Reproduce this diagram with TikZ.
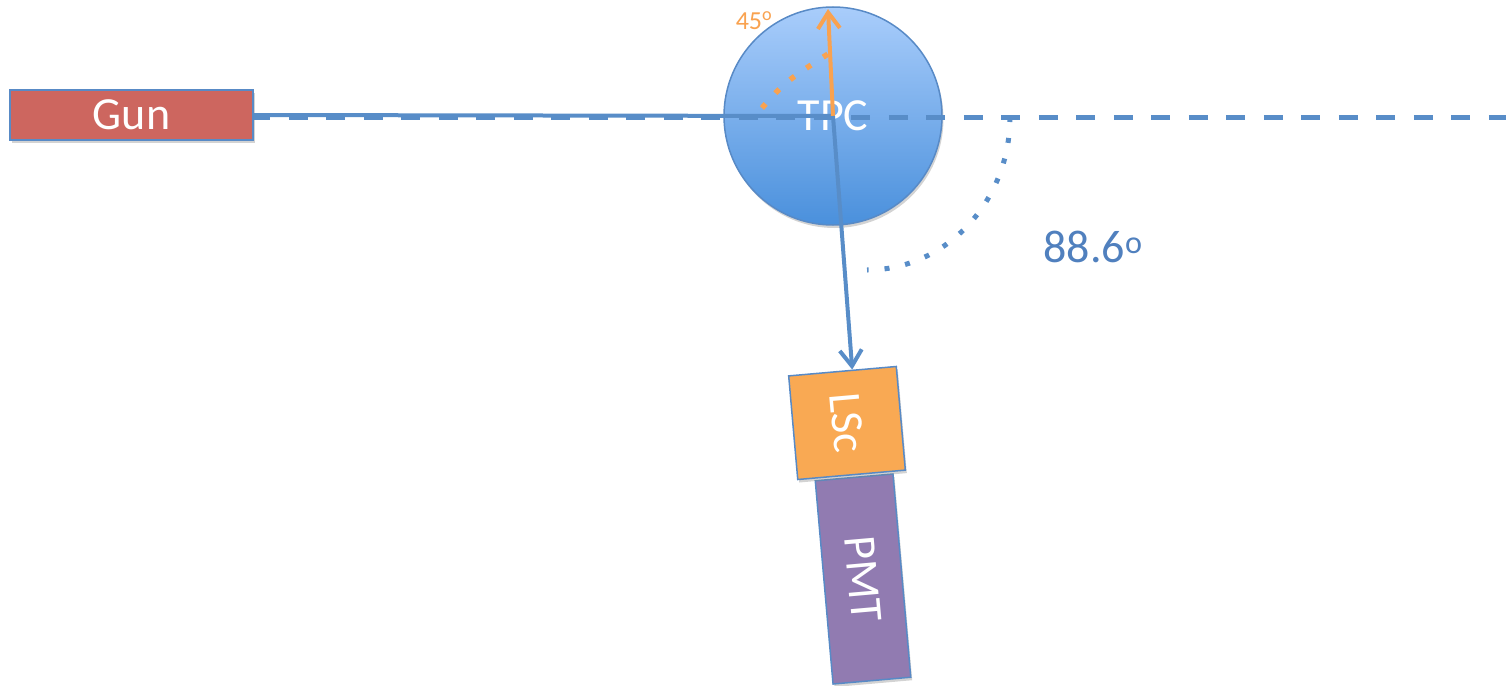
\documentclass[tikz,border=0pt]{standalone}
\usepackage{fontspec}
\setmainfont{Carlito}
\usetikzlibrary{arrows.meta,shadows,calc}
\definecolor{gunred}{RGB}{205,102,95}
\definecolor{edgeblue}{RGB}{88,138,198}
\definecolor{lineblue}{RGB}{88,141,200}
\definecolor{tpctop}{RGB}{169,205,251}
\definecolor{tpcbot}{RGB}{74,144,220}
\definecolor{beamorange}{RGB}{249,162,80}
\definecolor{lscorange}{RGB}{249,169,83}
\definecolor{pmtpurple}{RGB}{145,123,177}
\definecolor{labelblue}{RGB}{80,128,190}
\tikzset{
  boxstyle/.style={draw=edgeblue, line width=1.5pt, text=white, inner sep=0pt,
    font=\fontsize{46}{50}\selectfont},
  shade3d/.style={drop shadow={shadow xshift=1.5pt, shadow yshift=-3pt, opacity=0.35}},
  beam/.style={draw=lineblue, line width=4pt},
  dashbeam/.style={draw=lineblue, line width=5pt, dash pattern=on 19pt off 18.5pt, dash phase=2.5pt},
  bluedots/.style={draw=lineblue, line width=5pt, dash pattern=on 5pt off 16pt},
  orangedots/.style={draw=beamorange, line width=5.5pt, dash pattern=on 5.5pt off 14.5pt},
  tip/.style={-{Straight Barb[length=16pt,width=22pt]}},
}
\begin{document}
\begin{tikzpicture}[x=1pt,y=1pt]
\useasboundingbox (0,0) rectangle (1506,-685);

% Gun
\node[boxstyle, shade3d, fill=gunred, minimum width=243pt, minimum height=50pt] (gun) at (131.5,-115) {Gun};

% TPC
\node[circle, draw=edgeblue, line width=1.5pt, top color=tpctop, bottom color=tpcbot,
  shade3d, minimum size=218pt, inner sep=0pt, text=white, font=\fontsize{46}{50}\selectfont] (tpc) at (833,-116) {TPC};

% PMT and LSc
\node[boxstyle, shade3d, fill=pmtpurple, rotate=-85, minimum width=204pt, minimum height=78pt] (pmt) at (863,-579) {PMT};
\node[boxstyle, shade3d, fill=lscorange, rotate=-85, minimum width=104pt, minimum height=108pt] (lsc) at (847,-423) {LSc};

% beam lines
\coordinate (rightend) at (1506,-117);
\draw[dashbeam] (gun.east |- rightend) -- (rightend);
\draw[beam] (gun.east) -- (tpc.center);

% orange 45 deg arrow
\coordinate (otip) at (828,-9);
\draw[draw=beamorange, line width=4pt, tip] (tpc.center) -- (otip);
\coordinate (oa) at (762,-108);
\coordinate (ob) at (828,-54);
\draw[orangedots] (oa) .. controls (785,-82) .. (ob);
\node[text=beamorange, font=\fontsize{26}{28}\selectfont] (l45) at (754,-21) {45\textsuperscript{o}};

% blue arrow to LSc
\coordinate (lsctip) at ($(lsc.south west)!0.59!(lsc.north west)$);
\draw[beam, tip] (tpc.center) -- (lsctip);

% blue angle arc
\coordinate (arcstart) at (1010,-117);
\draw[bluedots] (arcstart) arc[start angle=0, end angle=-90, x radius=143, y radius=153];
\node[text=labelblue, font=\fontsize{46}{50}\selectfont] (l886) at (1093,-247) {88.6\textsuperscript{o}};
\end{tikzpicture}
\end{document}
